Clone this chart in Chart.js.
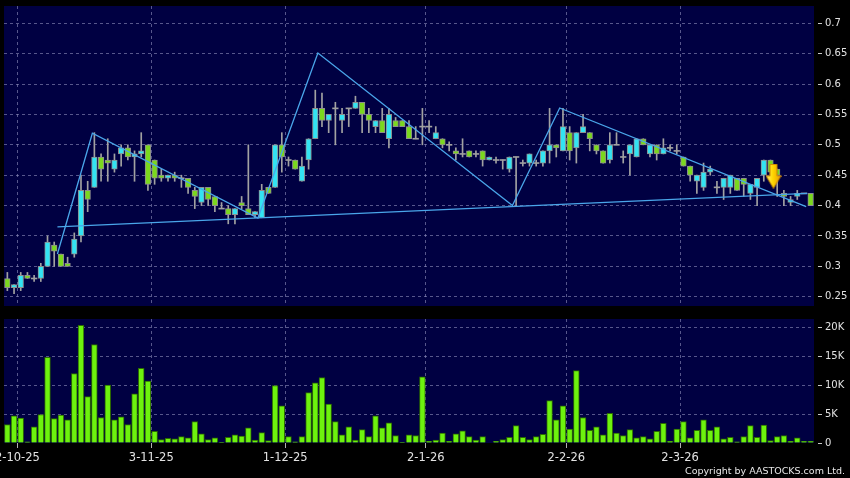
<!DOCTYPE html>
<html><head><meta charset="utf-8">
<script src="https://cdn.jsdelivr.net/npm/chart.js@4.4.1/dist/chart.umd.min.js"></script>
<style>
html,body{margin:0;padding:0;background:#000;}
#wrap{position:relative;width:850px;height:478px;overflow:hidden;background:#000;}
#top{position:absolute;left:0;top:0;}
#bot{position:absolute;left:0;top:312px;}
#copy{position:absolute;right:5px;top:465px;font:9.5px "DejaVu Sans",sans-serif;color:#e8e8e8;white-space:nowrap;line-height:12px;}
</style></head>
<body>
<div id="wrap">
<canvas id="top" width="850" height="312"></canvas>
<canvas id="bot" width="850" height="166"></canvas>
<div id="copy">Copyright by AASTOCKS.com Ltd.</div>
</div>
<script>
// ---- data (one entry per trading day, 30-9-25 .. 30-3-26) ----
const openP = [
.28,.265,.265,.285,.28,.28,.30,.335,.32,.305,
.32,.35,.425,.43,.48,.475,.46,.485,.495,.48,
.485,.50,.475,.45,.445,.45,.445,.445,.425,.405,
.43,.415,.395,.395,.385,.405,.395,.385,.38,.43,
.43,.50,.475,.475,.44,.475,.51,.56,.54,.56,
.54,.56,.56,.57,.55,.53,.54,.51,.54,.54,
.53,.51,.53,.53,.51,.51,.50,.49,.485,.49,
.485,.49,.475,.475,.475,.46,.48,.47,.47,.47,
.47,.49,.50,.49,.52,.495,.52,.52,.50,.49,
.475,.50,.48,.485,.48,.51,.485,.50,.485,.495,
.49,.48,.465,.44,.43,.455,.43,.43,.43,.445,
.445,.42,.43,.45,.475,.46,.42,.405,.415,.42,
.42];
const highP = [
.29,.27,.29,.29,.285,.305,.35,.34,.32,.315,
.355,.45,.44,.52,.485,.51,.485,.50,.50,.49,
.52,.50,.475,.46,.45,.455,.45,.445,.43,.43,
.43,.415,.405,.40,.395,.415,.50,.39,.435,.43,
.50,.52,.48,.475,.48,.51,.59,.585,.55,.57,
.56,.56,.58,.57,.56,.54,.56,.56,.545,.54,
.54,.53,.56,.54,.53,.51,.505,.495,.51,.49,
.49,.49,.48,.48,.475,.48,.48,.475,.485,.475,
.49,.56,.50,.56,.53,.52,.55,.52,.50,.49,
.52,.52,.49,.50,.51,.51,.50,.50,.51,.50,
.50,.48,.465,.45,.47,.465,.44,.445,.45,.445,
.445,.435,.445,.475,.475,.46,.425,.415,.425,.42,
.42];
const lowP = [
.26,.255,.26,.28,.275,.275,.30,.30,.30,.30,
.315,.34,.39,.43,.44,.44,.455,.465,.475,.44,
.48,.425,.435,.44,.44,.44,.43,.42,.395,.40,
.40,.39,.395,.37,.37,.395,.385,.38,.38,.42,
.43,.455,.465,.46,.44,.46,.51,.53,.52,.50,
.52,.53,.56,.52,.52,.52,.52,.495,.53,.53,
.51,.51,.50,.52,.51,.495,.49,.475,.48,.48,
.48,.465,.475,.47,.46,.455,.40,.465,.465,.465,
.465,.47,.48,.49,.475,.47,.52,.49,.485,.47,
.47,.50,.47,.45,.48,.50,.48,.475,.485,.49,
.485,.465,.44,.42,.425,.45,.42,.41,.42,.425,
.415,.41,.40,.44,.45,.415,.40,.40,.41,.42,
.40];
const closeP = [
.265,.27,.285,.28,.28,.30,.34,.325,.30,.30,
.345,.425,.41,.48,.46,.47,.475,.495,.48,.485,
.49,.435,.445,.445,.45,.445,.445,.43,.415,.43,
.41,.40,.395,.385,.395,.40,.385,.39,.425,.42,
.50,.48,.475,.46,.465,.51,.56,.54,.55,.56,
.55,.56,.57,.55,.54,.54,.52,.55,.53,.53,
.51,.51,.53,.53,.52,.50,.50,.485,.485,.48,
.485,.475,.48,.475,.475,.48,.48,.47,.485,.47,
.49,.50,.495,.53,.49,.52,.53,.51,.49,.47,
.50,.50,.48,.50,.51,.50,.50,.485,.495,.495,
.49,.465,.45,.45,.455,.46,.43,.445,.45,.425,
.435,.435,.445,.475,.455,.45,.415,.41,.42,.42,
.40];
const volume = [
3200,4700,4300,200,2800,4900,14800,4200,4800,4000,
12000,20300,8000,17000,4400,10000,4000,4500,3200,8500,
12900,10700,2000,600,800,700,1100,900,3700,1600,
600,900,50,1000,1400,1200,2600,500,1800,400,
9900,6400,1100,200,1100,8700,10400,11300,6700,3700,
1400,2800,500,2300,1100,4700,2600,3500,1300,50,
1400,1300,11400,300,500,1700,300,1600,2100,1100,
500,1100,0,300,600,1000,3000,1000,600,1100,
1500,7300,4000,6400,2400,12500,4400,2200,2800,1400,
5100,1700,1300,2300,900,1100,700,2000,3400,300,
2400,3700,900,2200,4000,2200,2800,700,1000,200,
1100,3000,1000,3100,400,1100,1300,300,900,300,
300];

// date axis: index of first trading day of each month and its label
const dateTickIdx = [1, 21, 41, 62, 83, 100];
const dateTickLabels = ['2-10-25', '3-11-25', '1-12-25', '2-1-26', '2-2-26', '2-3-26'];
const priceTicks = [0.25, 0.3, 0.35, 0.4, 0.45, 0.5, 0.55, 0.6, 0.65, 0.7];
const priceTickLabels = ['0.25', '0.3', '0.35', '0.4', '0.45', '0.5', '0.55', '0.6', '0.65', '0.7'];
const volTicks = [0, 5000, 10000, 15000, 20000];
const volTickLabels = ['0', '5K', '10K', '15K', '20K'];

// drawn trend lines (day index, price)
const zigX = [7.48, 12.7, 37.43, 46.39, 75.45, 82.51, 119.33];
const zigY = [0.3203, 0.519, 0.3796, 0.6512, 0.400, 0.5606, 0.3982];
const supportX = [7.48, 119.5];
const supportY = [0.3648, 0.4202];
// signal arrow
const arrowX = [114.45];
const arrowY = [0.4482];

// ---- styling ----
const NAVY = '#000042';
const GRID = 'rgba(140,140,185,0.62)';
const TXT = '#e2e2e2';
const CYAN = '#33e3f2';
const GREEN = '#7bd81e';
const N = closeP.length;
const idx = Array.from({length: N}, (_, i) => i);

const navyBg = {
  id: 'navyBg',
  beforeDraw(chart) {
    const {ctx, chartArea: a} = chart;
    ctx.save();
    ctx.fillStyle = NAVY;
    ctx.fillRect(a.left, a.top, a.right - a.left, a.bottom - a.top);
    ctx.restore();
  }
};

// arrow image used as point style
const arrowImg = document.createElement('canvas');
arrowImg.width = 16; arrowImg.height = 25;
(function () {
  const ac = arrowImg.getContext('2d');
  const g = ac.createLinearGradient(0, 0, 16, 0);
  g.addColorStop(0, '#fff380'); g.addColorStop(0.45, '#ffd800'); g.addColorStop(1, '#e79500');
  ac.fillStyle = g;
  ac.beginPath();
  ac.moveTo(4.5, 0.5); ac.lineTo(11.5, 0.5); ac.lineTo(11.5, 12); ac.lineTo(15.5, 12);
  ac.lineTo(8, 24.5); ac.lineTo(0.5, 12); ac.lineTo(4.5, 12); ac.closePath();
  ac.fill();
  ac.strokeStyle = '#c98300'; ac.lineWidth = 1; ac.stroke();
})();

const dirColor = i => closeP[i] > openP[i] ? CYAN : (closeP[i] < openP[i] ? GREEN : '#a0a0a0');
const bodyRange = i => openP[i] === closeP[i] ? [openP[i] - 0.0008, openP[i] + 0.0008] : [openP[i], closeP[i]];

function xScale(showLabels) {
  return {
    type: 'linear', min: -0.5, max: N - 0.5, offset: false,
    afterBuildTicks: s => { s.ticks = dateTickIdx.map(i => ({value: i + 0.5})); },
    afterFit: s => { s.height = showLabels ? 35 : 0; s.paddingLeft = 0; s.paddingRight = 0; },
    ticks: {
      display: showLabels, autoSkip: false, maxRotation: 0, minRotation: 0, padding: 3,
      color: TXT, font: {family: 'DejaVu Sans', size: 11.5},
      callback: (v, i) => dateTickLabels[i]
    },
    grid: {offset: false, color: GRID, lineWidth: 1, drawTicks: showLabels, tickLength: 5, tickColor: '#b0b0b0', tickBorderDash: [], tickWidth: 1},
    border: {display: false, dash: [3, 3]}
  };
}
function yScale(min, max, ticks, labels) {
  return {
    type: 'linear', position: 'right', min, max,
    afterBuildTicks: s => { s.ticks = ticks.map(v => ({value: v})); },
    afterFit: s => { s.width = 36; s.paddingTop = 0; s.paddingBottom = 0; },
    ticks: {color: TXT, font: {family: 'DejaVu Sans', size: 10}, padding: 3, callback: (v, i) => labels[i]},
    grid: {color: c => (c.tick && c.tick.value === 0) ? 'rgba(0,0,0,0)' : GRID, lineWidth: 1, tickLength: 8, tickColor: '#c8c8c8',
           tickBorderDash: [4, 4], tickBorderDashOffset: 4, tickWidth: 1},
    border: {display: false, dash: [3, 3]}
  };
}

const common = {
  responsive: false, animation: false, events: [],
  plugins: {legend: {display: false}, tooltip: {enabled: false}, title: {display: false}}
};

new Chart(document.getElementById('top'), {
  type: 'bar',
  data: {
    datasets: [
      {type: 'line', label: 'arrow', data: arrowX.map((x, k) => ({x, y: arrowY[k]})),
       showLine: false, pointStyle: arrowImg, pointRadius: 8, order: 1},
      {type: 'line', label: 'zigzag', data: zigX.map((x, k) => ({x, y: zigY[k]})),
       borderColor: '#4aa6ea', borderWidth: 1.3, pointRadius: 0, fill: false, tension: 0, order: 2},
      {type: 'line', label: 'support', data: supportX.map((x, k) => ({x, y: supportY[k]})),
       borderColor: '#4aa6ea', borderWidth: 1.3, pointRadius: 0, fill: false, tension: 0, order: 2},
      {type: 'bar', label: 'body', data: idx.map(i => ({x: i, y: bodyRange(i)})),
       backgroundColor: idx.map(dirColor),
       borderColor: idx.map(i => openP[i] === closeP[i] ? 'rgba(0,0,0,0)' : '#8e8e8e'),
       borderWidth: idx.map(i => openP[i] === closeP[i] ? 0 : 1),
       borderSkipped: false, barThickness: 5.6, grouped: false, order: 3},
      {type: 'bar', label: 'wick', data: idx.map(i => ({x: i, y: [lowP[i], highP[i]]})),
       backgroundColor: '#a2a2a2', borderWidth: 0, barThickness: 1, grouped: false, order: 4}
    ]
  },
  options: Object.assign({}, common, {
    layout: {autoPadding: false, padding: {left: 4, top: 6, right: 0, bottom: 6}},
    scales: {x: xScale(false), y: yScale(0.2347, 0.7285, priceTicks, priceTickLabels)}
  }),
  plugins: [navyBg]
});

new Chart(document.getElementById('bot'), {
  type: 'bar',
  data: {
    datasets: [
      {label: 'volume', data: idx.map(i => ({x: i, y: volume[i]})),
       backgroundColor: '#6df20e', borderColor: '#2c6a02', borderWidth: 1, borderSkipped: 'start',
       barThickness: 5.8, grouped: false}
    ]
  },
  options: Object.assign({}, common, {
    layout: {autoPadding: false, padding: {left: 4, top: 7, right: 0, bottom: 0}},
    scales: {x: xScale(true), y: yScale(0, 21400, volTicks, volTickLabels)}
  }),
  plugins: [navyBg]
});
</script>
</body></html>
